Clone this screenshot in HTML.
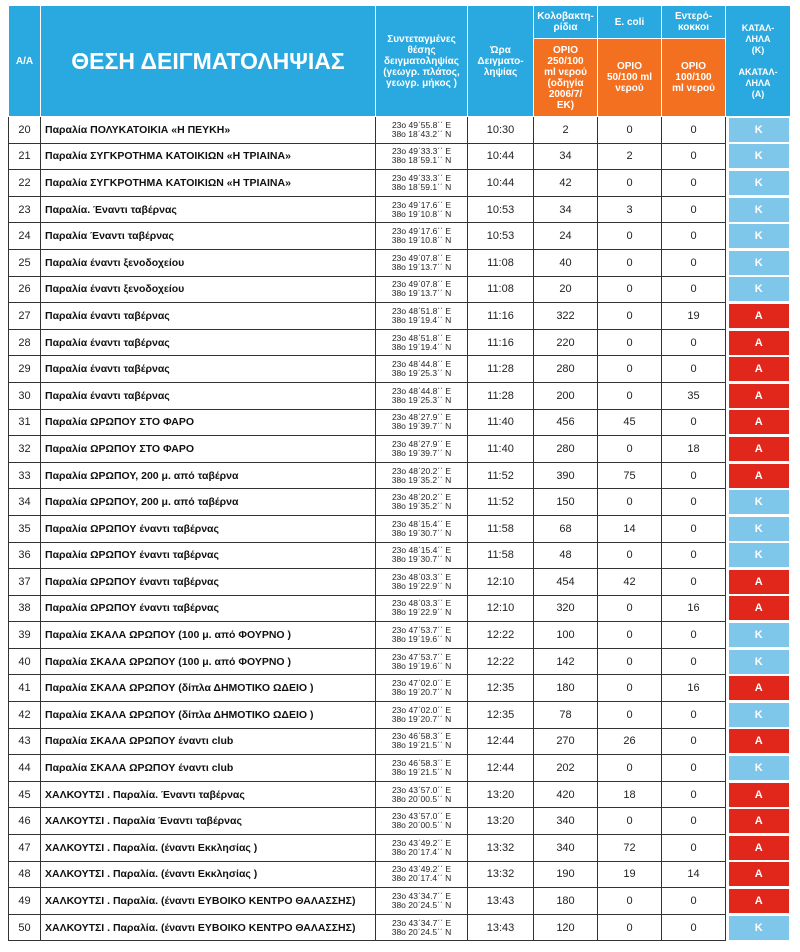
<!DOCTYPE html>
<html><head><meta charset="utf-8"><style>
body{margin:0;width:800px;height:952px;background:#fff;overflow:hidden;font-family:"Liberation Sans","DejaVu Sans",sans-serif}
table{position:absolute;left:8px;top:5px;border-collapse:collapse;table-layout:fixed;width:782px}
th{background:#29a9df;color:#fff;border:1px solid #fff;font-weight:bold;font-size:10px;line-height:11px;padding:0;text-align:center}
th.o{background:#f37021}
td{border:1px solid #333;padding:0;text-align:center;font-size:11px;color:#222;height:25.6px;white-space:nowrap;overflow:hidden;line-height:12px}
td.n{text-align:left;font-weight:bold;font-size:10.5px;padding-left:4px;color:#111}
td.c{font-size:8.5px;line-height:9px}
td.s{border:none;padding:0 2px 0 3px}
td.s div{height:24px;line-height:24px;color:#fff;font-weight:bold;font-size:11px}
.K{background:#7fc7ea}.A{background:#e1261c}
</style></head><body>
<table>
<colgroup><col style="width:32px"><col style="width:335px"><col style="width:92px"><col style="width:66px"><col style="width:64px"><col style="width:64px"><col style="width:64px"><col style="width:65px"></colgroup>
<tr style="height:33px"><th rowspan="2">Α/Α</th><th rowspan="2" style="font-size:23px;line-height:26px">ΘΕΣΗ ΔΕΙΓΜΑΤΟΛΗΨΙΑΣ</th><th rowspan="2">Συντεταγμένες θέσης δειγματοληψίας (γεωγρ. πλάτος, γεωγρ. μήκος )</th><th rowspan="2">Ώρα Δειγματο-ληψίας</th><th>Κολοβακτη-ρίδια</th><th>E. coli</th><th>Εντερό-κοκκοι</th><th rowspan="2" style="font-size:9px;line-height:11px">ΚΑΤΑΛ-<br>ΛΗΛΑ<br>(Κ)<br><br>ΑΚΑΤΑΛ-<br>ΛΗΛΑ<br>(Α)</th></tr>
<tr style="height:78px"><th class="o">ΟΡΙΟ<br>250/100<br>ml νερού<br>(οδηγία<br>2006/7/<br>ΕΚ)</th><th class="o">ΟΡΙΟ<br>50/100 ml<br>νερού</th><th class="o">ΟΡΙΟ<br>100/100<br>ml νερού</th></tr>
<tbody id="b"></tbody>
</table>
<script>
var R=[
[20,"Παραλία  ΠΟΛΥΚΑΤΟΙΚΙΑ «Η ΠΕΥΚΗ»","23ο 49΄55.8΄΄ E","38ο 18΄43.2΄΄ N","10:30",2,0,0,"K"],
[21,"Παραλία ΣΥΓΚΡΟΤΗΜΑ ΚΑΤΟΙΚΙΩΝ «Η ΤΡΙΑΙΝΑ»","23ο 49΄33.3΄΄ E","38ο 18΄59.1΄΄ N","10:44",34,2,0,"K"],
[22,"Παραλία ΣΥΓΚΡΟΤΗΜΑ ΚΑΤΟΙΚΙΩΝ «Η ΤΡΙΑΙΝΑ»","23ο 49΄33.3΄΄ E","38ο 18΄59.1΄΄ N","10:44",42,0,0,"K"],
[23,"Παραλία. Έναντι ταβέρνας","23ο 49΄17.6΄΄ E","38ο 19΄10.8΄΄ N","10:53",34,3,0,"K"],
[24,"Παραλία Έναντι ταβέρνας","23ο 49΄17.6΄΄ E","38ο 19΄10.8΄΄ N","10:53",24,0,0,"K"],
[25,"Παραλία έναντι ξενοδοχείου","23ο 49΄07.8΄΄ E","38ο 19΄13.7΄΄ N","11:08",40,0,0,"K"],
[26,"Παραλία έναντι ξενοδοχείου","23ο 49΄07.8΄΄ E","38ο 19΄13.7΄΄ N","11:08",20,0,0,"K"],
[27,"Παραλία έναντι ταβέρνας","23ο 48΄51.8΄΄ E","38ο 19΄19.4΄΄ N","11:16",322,0,19,"A"],
[28,"Παραλία έναντι ταβέρνας","23ο 48΄51.8΄΄ E","38ο 19΄19.4΄΄ N","11:16",220,0,0,"A"],
[29,"Παραλία έναντι ταβέρνας","23ο 48΄44.8΄΄ E","38ο 19΄25.3΄΄ N","11:28",280,0,0,"A"],
[30,"Παραλία έναντι ταβέρνας","23ο 48΄44.8΄΄ E","38ο 19΄25.3΄΄ N","11:28",200,0,35,"A"],
[31,"Παραλία  ΩΡΩΠΟΥ ΣΤΟ ΦΑΡΟ","23ο 48΄27.9΄΄ E","38ο 19΄39.7΄΄ N","11:40",456,45,0,"A"],
[32,"Παραλία  ΩΡΩΠΟΥ ΣΤΟ ΦΑΡΟ","23ο 48΄27.9΄΄ E","38ο 19΄39.7΄΄ N","11:40",280,0,18,"A"],
[33,"Παραλία  ΩΡΩΠΟΥ, 200 μ. από ταβέρνα","23ο 48΄20.2΄΄ E","38ο 19΄35.2΄΄ N","11:52",390,75,0,"A"],
[34,"Παραλία  ΩΡΩΠΟΥ, 200 μ. από ταβέρνα","23ο 48΄20.2΄΄ E","38ο 19΄35.2΄΄ N","11:52",150,0,0,"K"],
[35,"Παραλία ΩΡΩΠΟΥ έναντι ταβέρνας","23ο 48΄15.4΄΄ E","38ο 19΄30.7΄΄ N","11:58",68,14,0,"K"],
[36,"Παραλία ΩΡΩΠΟΥ έναντι ταβέρνας","23ο 48΄15.4΄΄ E","38ο 19΄30.7΄΄ N","11:58",48,0,0,"K"],
[37,"Παραλία ΩΡΩΠΟΥ έναντι ταβέρνας","23ο 48΄03.3΄΄ E","38ο 19΄22.9΄΄ N","12:10",454,42,0,"A"],
[38,"Παραλία ΩΡΩΠΟΥ έναντι ταβέρνας","23ο 48΄03.3΄΄ E","38ο 19΄22.9΄΄ N","12:10",320,0,16,"A"],
[39,"Παραλία  ΣΚΑΛΑ ΩΡΩΠΟΥ (100 μ. από ΦΟΥΡΝΟ )","23ο 47΄53.7΄΄ E","38ο 19΄19.6΄΄ N","12:22",100,0,0,"K"],
[40,"Παραλία  ΣΚΑΛΑ ΩΡΩΠΟΥ (100 μ. από ΦΟΥΡΝΟ )","23ο 47΄53.7΄΄ E","38ο 19΄19.6΄΄ N","12:22",142,0,0,"K"],
[41,"Παραλία  ΣΚΑΛΑ ΩΡΩΠΟΥ (δίπλα ΔΗΜΟΤΙΚΟ ΩΔΕΙΟ )","23ο 47΄02.0΄΄ E","38ο 19΄20.7΄΄ N","12:35",180,0,16,"A"],
[42,"Παραλία  ΣΚΑΛΑ ΩΡΩΠΟΥ (δίπλα ΔΗΜΟΤΙΚΟ ΩΔΕΙΟ )","23ο 47΄02.0΄΄ E","38ο 19΄20.7΄΄ N","12:35",78,0,0,"K"],
[43,"Παραλία  ΣΚΑΛΑ ΩΡΩΠΟΥ  έναντι club","23ο 46΄58.3΄΄ E","38ο 19΄21.5΄΄ N","12:44",270,26,0,"A"],
[44,"Παραλία  ΣΚΑΛΑ ΩΡΩΠΟΥ έναντι club","23ο 46΄58.3΄΄ E","38ο 19΄21.5΄΄ N","12:44",202,0,0,"K"],
[45,"ΧΑΛΚΟΥΤΣΙ . Παραλία. Έναντι ταβέρνας","23ο 43΄57.0΄΄ E","38ο 20΄00.5΄΄ N","13:20",420,18,0,"A"],
[46,"ΧΑΛΚΟΥΤΣΙ . Παραλία Έναντι ταβέρνας","23ο 43΄57.0΄΄ E","38ο 20΄00.5΄΄ N","13:20",340,0,0,"A"],
[47,"ΧΑΛΚΟΥΤΣΙ . Παραλία.  (έναντι Εκκλησίας )","23ο 43΄49.2΄΄ E","38ο 20΄17.4΄΄ N","13:32",340,72,0,"A"],
[48,"ΧΑΛΚΟΥΤΣΙ . Παραλία. (έναντι Εκκλησίας )","23ο 43΄49.2΄΄ E","38ο 20΄17.4΄΄ N","13:32",190,19,14,"A"],
[49,"ΧΑΛΚΟΥΤΣΙ . Παραλία.  (έναντι ΕΥΒΟΙΚΟ ΚΕΝΤΡΟ ΘΑΛΑΣΣΗΣ)","23ο 43΄34.7΄΄ E","38ο 20΄24.5΄΄ N","13:43",180,0,0,"A"],
[50,"ΧΑΛΚΟΥΤΣΙ . Παραλία.  (έναντι ΕΥΒΟΙΚΟ ΚΕΝΤΡΟ ΘΑΛΑΣΣΗΣ)","23ο 43΄34.7΄΄ E","38ο 20΄24.5΄΄ N","13:43",120,0,0,"K"]];
var h="";R.forEach(function(r){h+='<tr><td>'+r[0]+'</td><td class="n">'+r[1]+'</td><td class="c">'+r[2]+'<br>'+r[3]+'</td><td>'+r[4]+'</td><td>'+r[5]+'</td><td>'+r[6]+'</td><td>'+r[7]+'</td><td class="s"><div class="'+r[8]+'">'+(r[8]=="K"?"Κ":"Α")+'</div></td></tr>';});
document.getElementById("b").innerHTML=h;
</script>
</body></html>
